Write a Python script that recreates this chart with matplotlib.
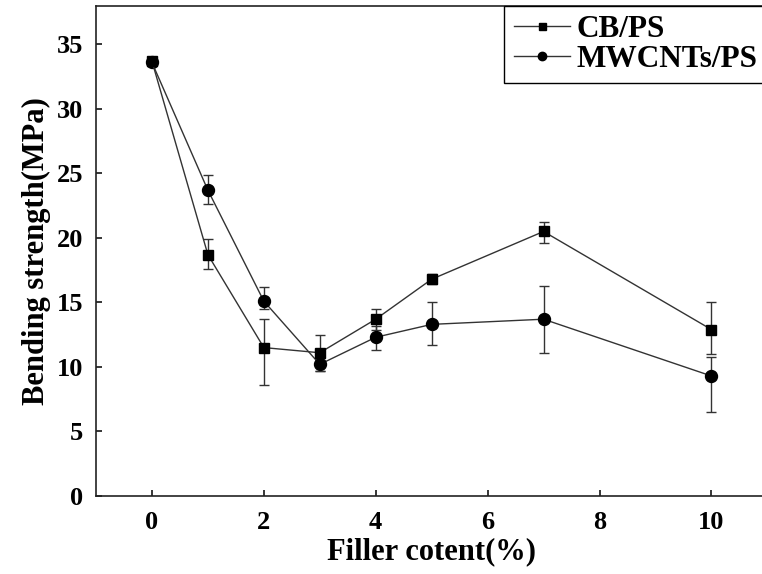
import matplotlib
matplotlib.use("Agg")
import matplotlib.pyplot as plt

# Filler content (%) and bending strength (MPa)
filler = [0, 1, 2, 3, 4, 5, 7, 10]

cb_ps = [33.7, 18.7, 11.5, 11.1, 13.7, 16.8, 20.5, 12.9]
cb_err_low = [0.3, 1.1, 2.9, 1.4, 0.8, 0.4, 0.9, 1.9]
cb_err_high = [0.3, 1.2, 2.2, 1.4, 0.8, 0.4, 0.7, 2.1]

mw_ps = [33.6, 23.7, 15.1, 10.2, 12.3, 13.3, 13.7, 9.3]
mw_err_low = [0.3, 1.1, 0.6, 0.5, 1.0, 1.6, 2.6, 2.8]
mw_err_high = [0.3, 1.2, 1.1, 0.5, 0.9, 1.7, 2.6, 1.5]

xticks = [0, 2, 4, 6, 8, 10]
yticks = [0, 5, 10, 15, 20, 25, 30, 35]

plt.rcParams['font.family'] = ['Liberation Serif', 'DejaVu Serif']
plt.rcParams['font.weight'] = 'bold'

fig = plt.figure(figsize=(7.62, 5.74), dpi=100)
ax = fig.add_axes([0.126, 0.136, 0.881, 0.854])

line_c = '#333333'
err_kw = dict(fmt='none', ecolor=line_c, elinewidth=1.0, capsize=3.8,
              capthick=1.0, zorder=2)
ax.errorbar(filler, mw_ps, yerr=[mw_err_low, mw_err_high], **err_kw)
ax.errorbar(filler, cb_ps, yerr=[cb_err_low, cb_err_high], **err_kw)

h_mw, = ax.plot(filler, mw_ps, color=line_c, lw=1.0, marker='o', ms=8.6,
                mfc='black', mec='black', label='MWCNTs/PS', zorder=3)
h_cb, = ax.plot(filler, cb_ps, color=line_c, lw=1.0, marker='s', ms=7.2,
                mfc='black', mec='black', label='CB/PS', zorder=4)

ax.set_xlim(-1, 11)
ax.set_ylim(0, 38)
ax.set_xticks(xticks)
ax.set_yticks(yticks)
ax.tick_params(direction='in', length=4, width=1.1, labelsize=19)
ax.tick_params(axis='x', pad=11)
ax.tick_params(axis='y', pad=9)
for lab in ax.get_xticklabels() + ax.get_yticklabels():
    lab.set_fontweight('bold')
for sp in ax.spines.values():
    sp.set_linewidth(1.2)
    sp.set_color('#222222')

ax.set_xlabel('Filler cotent(%)', fontsize=22, fontweight='bold', labelpad=2)
ax.set_ylabel('Bending strength(MPa)', fontsize=22, fontweight='bold',
              labelpad=4)

leg = ax.legend(handles=[h_cb, h_mw], loc='upper right', borderaxespad=0,
                fancybox=False, edgecolor='black', framealpha=1,
                markerscale=0.7, handlelength=1.8, handletextpad=0.22,
                borderpad=0.3, labelspacing=0.02,
                prop={'family': 'Liberation Serif', 'weight': 'bold',
                      'size': 22.5})
leg.get_frame().set_linewidth(1.0)

fig.savefig('out.png', dpi=100)
